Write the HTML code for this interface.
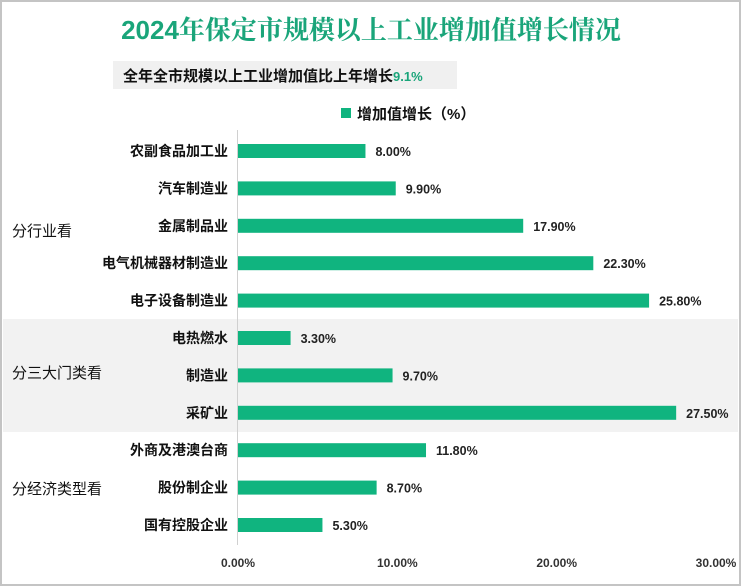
<!DOCTYPE html>
<html><head><meta charset="utf-8"><style>
body{margin:0;width:741px;height:586px;overflow:hidden;background:#fff;font-family:"Liberation Sans","Noto Sans CJK SC",sans-serif}
#wrap{position:absolute;left:0;top:0;width:737px;height:582px;border:2px solid #c4c4c4;background:#fff}
</style></head><body>
<div id="wrap"></div>
<svg id="c" width="741" height="586" style="position:absolute;left:0;top:0">
<rect x="3" y="319" width="735" height="113" fill="#f2f2f2"/>
<text x="371" y="39" text-anchor="middle" font-size="26" font-weight="bold" fill="#1aa57a" style="font-family:'Noto Serif CJK SC',serif"><tspan style="font-family:'Liberation Sans',sans-serif">2024</tspan>年保定市规模以上工业增加值增长情况</text>
<rect x="113" y="61" width="344" height="28" fill="#f0f0f0"/>
<text x="123" y="81" font-size="15" font-weight="bold" fill="#111">全年全市规模以上工业增加值比上年增长<tspan fill="#1aa57a" font-size="13">9.1%</tspan></text>
<rect x="341" y="108" width="10" height="10" fill="#10b47f"/>
<text x="357" y="119" font-size="15" font-weight="bold" fill="#111">增加值增长（%）</text>
<line x1="237.5" y1="130" x2="237.5" y2="545" stroke="#d0d0d0"/>
<text x="12" y="236" font-size="15" fill="#111">分行业看</text>
<text x="12" y="378" font-size="15" fill="#111">分三大门类看</text>
<text x="12" y="494" font-size="15" fill="#111">分经济类型看</text>
<g id="bars"></g>
</svg>
<script>
const categories=["农副食品加工业","汽车制造业","金属制品业","电气机械器材制造业","电子设备制造业","电热燃水","制造业","采矿业","外商及港澳台商","股份制企业","国有控股企业"];
const values=[8.0,9.9,17.9,22.3,25.8,3.3,9.7,27.5,11.8,8.7,5.3];
const ticks=[0,10,20,30];
const tickLabels=["0.00%","10.00%","20.00%","30.00%"];
const x=v=>238+v*(716-238)/30;
const y=i=>151+i*37.4;
const g=document.getElementById('bars');
const NS="http://www.w3.org/2000/svg";
function mk(t,a){const e=document.createElementNS(NS,t);for(const k in a)e.setAttribute(k,a[k]);g.appendChild(e);return e;}
categories.forEach((c,i)=>{
 const b=mk('rect',{x:x(0),y:y(i)-7,width:x(values[i])-x(0),height:14,fill:'#10b47f'});
 
 
 const l=mk('text',{x:228,y:y(i)+5,'text-anchor':'end','font-size':14,'font-weight':'bold',fill:'#111'});
 l.textContent=c;
 
 
 const v=mk('text',{x:x(values[i])+10,y:y(i)+5,'font-size':12.5,'font-weight':'bold',fill:'#222'});
 v.textContent=values[i].toFixed(2)+'%';
 
 
});
ticks.forEach((t,i)=>{
 const e=mk('text',{x:x(t),y:567,'text-anchor':'middle','font-size':12,'font-weight':'bold',fill:'#333'});
 e.textContent=tickLabels[i];
 
 
});
</script>
</body></html>
